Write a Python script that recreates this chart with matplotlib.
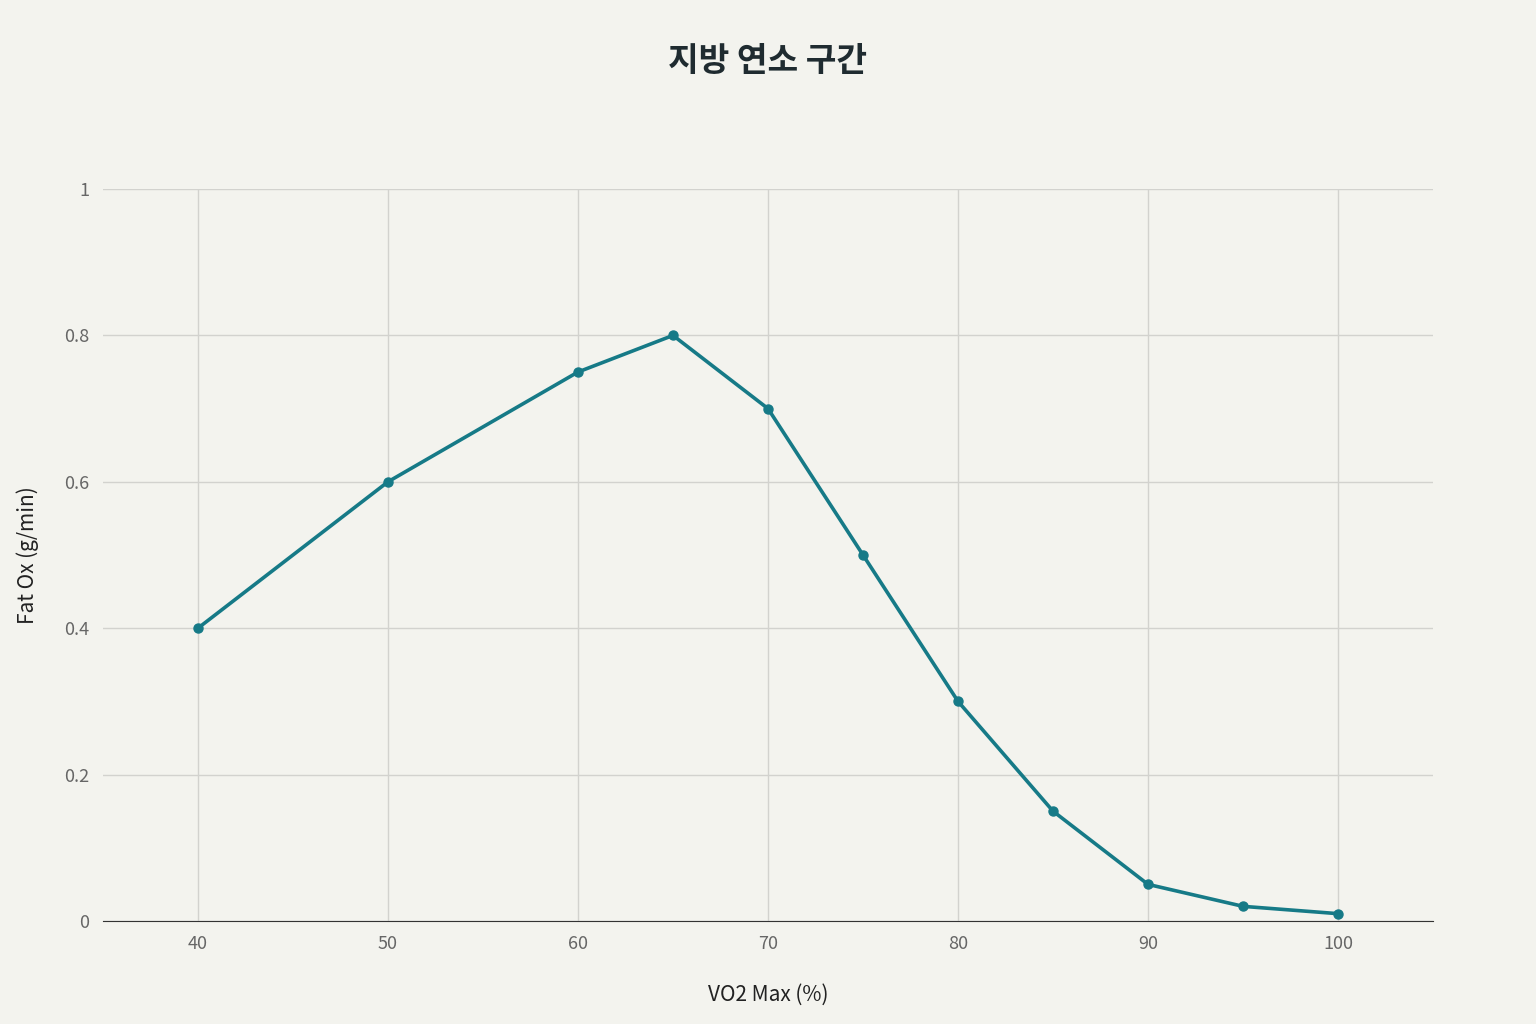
import matplotlib
matplotlib.use("Agg")
import matplotlib.pyplot as plt

plt.rcParams['font.family'] = ['Noto Sans CJK KR', 'DejaVu Sans']

vo2 = [40, 50, 60, 65, 70, 75, 80, 85, 90, 95, 100]
fat_ox = [0.40, 0.60, 0.75, 0.80, 0.70, 0.50, 0.30, 0.15, 0.05, 0.02, 0.01]
xticks = [40, 50, 60, 70, 80, 90, 100]
yticks = [0, 0.2, 0.4, 0.6, 0.8, 1]
ytick_labels = ["0", "0.2", "0.4", "0.6", "0.8", "1"]

bg = "#F3F3EE"
fig = plt.figure(figsize=(15.36, 10.24), dpi=100, facecolor=bg)
ax = fig.add_axes([0.067, 0.1006, 0.866, 0.7148], facecolor=bg)

ax.plot(vo2, fat_ox, color="#167A87", linewidth=2.6, marker="o", markersize=6.5, zorder=3)
ax.set_xlim(35, 105)
ax.set_ylim(0, 1)
ax.set_xticks(xticks)
ax.set_yticks(yticks)
ax.set_yticklabels(ytick_labels)
ax.grid(True, color="#D2D2CE", linewidth=1)
for s in ["top", "right", "left"]:
    ax.spines[s].set_visible(False)
ax.spines["bottom"].set_color("#333333")
ax.tick_params(axis="both", length=0, labelsize=13, labelcolor="#666666", pad=10)
ax.set_xlabel("VO2 Max (%)", fontsize=15, color="#222222", labelpad=22)
ax.set_ylabel("Fat Ox (g/min)", fontsize=15, color="#222222", labelpad=18)
fig.text(0.5, 0.94, "지방 연소 구간", ha="center", va="center", fontsize=24,
         fontweight="bold", color="#1F2B30")
fig.savefig("out.png", dpi=100, facecolor=bg)
